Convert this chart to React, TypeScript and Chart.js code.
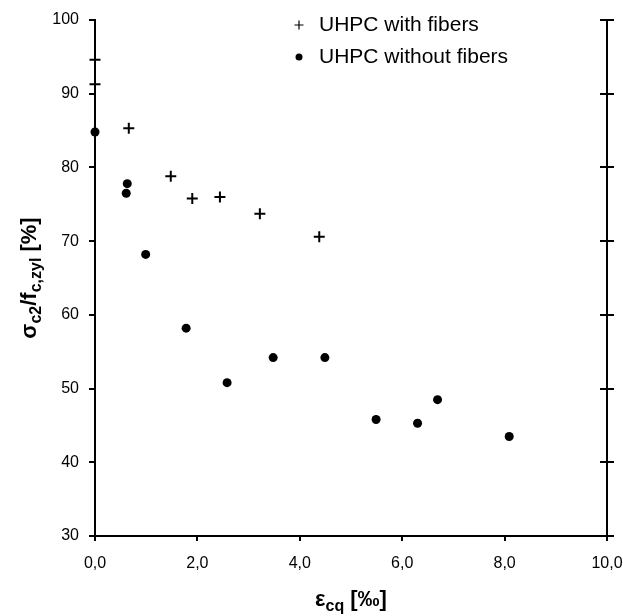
import React, { useEffect, useRef } from "react";
import { Chart, registerables } from "chart.js";

Chart.register(...registerables);

// ---- data ----
const seriesLabels = ["UHPC with fibers", "UHPC without fibers"];
const withFibersX = [0, 0, 0.66, 1.48, 1.9, 2.44, 3.22, 4.38];
const withFibersY = [94.6, 91.3, 85.3, 78.8, 75.8, 76.0, 73.7, 70.6];
const withoutFibersX = [0, 0.63, 0.61, 0.99, 1.78, 2.58, 3.48, 4.49, 5.49, 6.3, 6.69, 8.09];
const withoutFibersY = [84.8, 77.8, 76.5, 68.2, 58.2, 50.8, 54.2, 54.2, 45.8, 45.3, 48.5, 43.5];
const xMin = 0;
const xMax = 10;
const xStep = 2;
const yMin = 30;
const yMax = 100;
const yStep = 10;
const xTitleParts = [
  { t: "ε", sub: false },
  { t: "cq", sub: true },
  { t: " [‰]", sub: false },
];
const yTitleParts = [
  { t: "σ", sub: false },
  { t: "c2", sub: true },
  { t: "/f", sub: false },
  { t: "c,zyl", sub: true },
  { t: " [%]", sub: false },
];

const W = 623;
const H = 616;
const MAIN_FONT = "bold 22px 'Liberation Sans', Arial, sans-serif";
const SUB_FONT = "bold 16px 'Liberation Sans', Arial, sans-serif";

function drawRich(ctx: CanvasRenderingContext2D, parts: { t: string; sub: boolean }[], cx: number, baseline: number) {
  let total = 0;
  const widths = parts.map((p) => {
    ctx.font = p.sub ? SUB_FONT : MAIN_FONT;
    const w = ctx.measureText(p.t).width;
    total += w;
    return w;
  });
  let x = cx - total / 2;
  ctx.textAlign = "left";
  ctx.textBaseline = "alphabetic";
  parts.forEach((p, i) => {
    ctx.font = p.sub ? SUB_FONT : MAIN_FONT;
    ctx.fillText(p.t, x, baseline + (p.sub ? 5 : 0));
    x += widths[i];
  });
}

const decorPlugin = {
  id: "decor",
  afterDraw(chart: any) {
    const ctx: CanvasRenderingContext2D = chart.ctx;
    const area = chart.chartArea;
    const y2 = chart.scales.y2;
    ctx.save();
    ctx.strokeStyle = "#000";
    ctx.fillStyle = "#000";
    // inward half of right-axis ticks
    ctx.lineWidth = 2;
    y2.ticks.forEach((t: any) => {
      const py = Math.round(y2.getPixelForValue(t.value));
      ctx.beginPath();
      ctx.moveTo(area.right - 7, py);
      ctx.lineTo(area.right, py);
      ctx.stroke();
    });

    // legend
    const lx = 299;
    const tx = 319;
    ctx.lineWidth = 1.2;
    ctx.beginPath();
    ctx.moveTo(lx - 4.5, 25);
    ctx.lineTo(lx + 4.5, 25);
    ctx.moveTo(lx, 20.5);
    ctx.lineTo(lx, 29.5);
    ctx.stroke();
    ctx.beginPath();
    ctx.arc(lx, 57, 3.5, 0, Math.PI * 2);
    ctx.fill();
    ctx.font = "21px 'Liberation Sans', Arial, sans-serif";
    ctx.textAlign = "left";
    ctx.textBaseline = "alphabetic";
    ctx.fillText(chart.data.datasets[0].label, tx, 31);
    ctx.fillText(chart.data.datasets[1].label, tx, 63);

    // x title
    drawRich(ctx, xTitleParts, (area.left + area.right) / 2, 606);

    // y title
    ctx.translate(36, (area.top + area.bottom) / 2);
    ctx.rotate(-Math.PI / 2);
    drawRich(ctx, yTitleParts, 0, 0);
    ctx.restore();
  },
};

export default function App() {
  const ref = useRef<HTMLCanvasElement | null>(null);
  useEffect(() => {
    if (!ref.current) return;
    const chart = new Chart(ref.current, {
      type: "scatter",
      data: {
        datasets: [
          {
            label: seriesLabels[0],
            data: withFibersX.map((x, i) => ({ x, y: withFibersY[i] })),
            pointStyle: "cross",
            pointRadius: 5.5,
            pointBorderWidth: 2,
            borderColor: "#000",
            backgroundColor: "#000",
            clip: false,
          },
          {
            label: seriesLabels[1],
            data: withoutFibersX.map((x, i) => ({ x, y: withoutFibersY[i] })),
            pointStyle: "circle",
            pointRadius: 4.5,
            pointBorderWidth: 0,
            borderColor: "#000",
            backgroundColor: "#000",
            clip: false,
          },
        ],
      },
      options: {
        responsive: false,
        animation: false,
        devicePixelRatio: 1,
        layout: { padding: { top: 20, left: 0, right: 0, bottom: 0 } },
        plugins: { legend: { display: false }, tooltip: { enabled: false } },
        scales: {
          x: {
            type: "linear",
            min: xMin,
            max: xMax,
            afterFit: (s: any) => {
              s.height = 80;
              s.paddingLeft = 0;
              s.paddingRight = 0;
            },
            ticks: {
              stepSize: xStep,
              color: "#000",
              padding: 13,
              font: { size: 16, family: "'Liberation Sans', Arial, sans-serif" },
              maxRotation: 0,
              callback: (v: any) => Number(v).toFixed(1).replace(".", ","),
            },
            grid: { drawOnChartArea: false, color: "#000", lineWidth: 2, tickLength: 5 },
            border: { display: true, color: "#000", width: 2 },
          },
          y: {
            type: "linear",
            position: "left",
            min: yMin,
            max: yMax,
            afterFit: (s: any) => {
              s.width = 95;
              s.paddingTop = 0;
              s.paddingBottom = 0;
            },
            ticks: {
              stepSize: yStep,
              color: "#000",
              padding: 10,
              font: { size: 16, family: "'Liberation Sans', Arial, sans-serif" },
            },
            grid: { drawOnChartArea: false, color: "#000", lineWidth: 2, tickLength: 6 },
            border: { display: true, color: "#000", width: 2 },
          },
          y2: {
            type: "linear",
            position: "right",
            min: yMin,
            max: yMax,
            afterFit: (s: any) => {
              s.width = 16;
              s.paddingTop = 0;
              s.paddingBottom = 0;
            },
            ticks: { stepSize: yStep, display: false },
            grid: { drawOnChartArea: false, color: "#000", lineWidth: 2, tickLength: 7 },
            border: { display: true, color: "#000", width: 2 },
          },
        },
      },
      plugins: [decorPlugin],
    } as any);
    return () => chart.destroy();
  }, []);
  return (
    <div style={{ position: "absolute", left: 0, top: 0, width: W, height: H, background: "#fff" }}>
      <canvas ref={ref} width={W} height={H} style={{ width: W, height: H, display: "block" }} />
    </div>
  );
}
